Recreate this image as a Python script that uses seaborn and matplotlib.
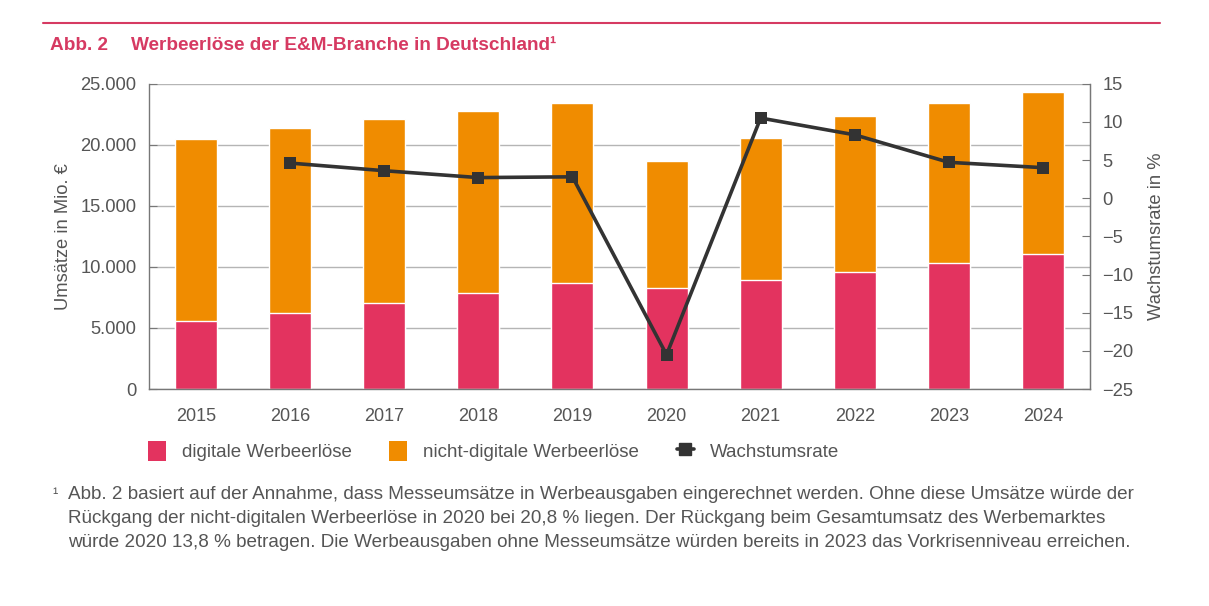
import numpy as np
import pandas as pd
import matplotlib
matplotlib.use("Agg")
import matplotlib.pyplot as plt
import seaborn as sns
from matplotlib.lines import Line2D
from matplotlib.patches import Patch
from matplotlib.ticker import FuncFormatter, FixedLocator

years = [2015, 2016, 2017, 2018, 2019, 2020, 2021, 2022, 2023, 2024]
digital = [5550, 6230, 7070, 7900, 8710, 8280, 8930, 9620, 10350, 11090]
total = [20470, 21400, 22150, 22760, 23440, 18630, 20570, 22320, 23390, 24320]
growth_years = [2016, 2017, 2018, 2019, 2020, 2021, 2022, 2023, 2024]
growth = [4.6, 3.6, 2.7, 2.8, -20.5, 10.5, 8.3, 4.7, 4.0]

RED = "#e3335f"
ORANGE = "#f08c00"
LINE = "#333333"
TEXT = "#555555"
TITLE = "#d63a62"
SPINE = "#777777"

sns.set_style("white")
plt.rcParams["font.family"] = ["Liberation Sans", "DejaVu Sans"]

df = pd.DataFrame({"year": years, "digital": digital, "total": total})
growth_df = pd.DataFrame({"year": growth_years, "growth": growth})

fig = plt.figure(figsize=(12.09, 6.06), dpi=100)
ax = fig.add_axes([149 / 1209, 0.358, 941 / 1209, 0.5039])

# stacked bars: total (orange) underneath, digital (red) drawn on top
sns.barplot(data=df, x="year", y="total", color=ORANGE, saturation=1,
            native_scale=True, width=0.446, errorbar=None, ax=ax)
sns.barplot(data=df, x="year", y="digital", color=RED, saturation=1,
            native_scale=True, width=0.446, errorbar=None, ax=ax)

ax.set_xlim(years[0] - 0.5, years[-1] + 0.5)
ax.set_ylim(0, 25000)
ax.set_yticks(np.arange(0, 25001, 5000))
ax.yaxis.set_major_formatter(FuncFormatter(lambda v, p: f"{int(v):,}".replace(",", ".")))
ax.set_xticks(years)
ax.set_xticklabels([str(y) for y in years])
ax.xaxis.set_minor_locator(FixedLocator([y + 0.5 for y in years[:-1]]))
ax.tick_params(axis="x", which="major", length=0, labelsize=13, labelcolor=TEXT, pad=14)
ax.tick_params(axis="x", which="minor", direction="in", length=5, color=SPINE, width=1)
ax.tick_params(axis="y", direction="in", length=6, color=SPINE, labelsize=13.2,
               labelcolor=TEXT, pad=9)
ax.grid(axis="y", color="#b5b5b5", linewidth=1)
ax.set_axisbelow(True)
ax.set_xlabel("")
ax.set_ylabel("Umsätze in Mio. €", fontsize=13.2, color=TEXT)
ax.yaxis.set_label_coords(-0.082, 0.5)
for side in ["left", "bottom", "right"]:
    ax.spines[side].set_color(SPINE)
    ax.spines[side].set_linewidth(1)
ax.spines["top"].set_visible(False)

ax2 = ax.twinx()
sns.lineplot(data=growth_df, x="year", y="growth", color=LINE, linewidth=2.6,
             marker="s", markersize=9, markeredgewidth=0, ax=ax2)
ax2.set_ylim(-25, 15)
ax2.set_yticks(np.arange(-25, 16, 5))
ax2.yaxis.set_major_formatter(FuncFormatter(lambda v, p: f"{int(v)}".replace("-", "\u2212")))
ax2.tick_params(axis="y", direction="in", length=6, color=SPINE, labelsize=13.2,
                labelcolor=TEXT, pad=9)
ax2.set_ylabel("Wachstumsrate in %", fontsize=13.2, color=TEXT)
ax2.yaxis.set_label_coords(1.062, 0.5)
ax2.set_xlabel("")
for side in ["left", "bottom", "top"]:
    ax2.spines[side].set_visible(False)
ax2.spines["right"].set_color(SPINE)

handles = [
    Patch(facecolor=RED, edgecolor="none", label="digitale Werbeerlöse"),
    Patch(facecolor=ORANGE, edgecolor="none", label="nicht-digitale Werbeerlöse"),
    Line2D([0], [0], color=LINE, linewidth=2.6, marker="s", markersize=9,
           label="Wachstumsrate"),
]
fig.legend(handles=handles, loc="center left", bbox_to_anchor=(0.1087, 0.256),
           ncol=3, frameon=False, fontsize=13.5, labelcolor=TEXT,
           handlelength=0.95, handleheight=1.25, handletextpad=0.85, columnspacing=2.0)

# header
fig.add_artist(Line2D([43 / 1209, 1160 / 1209], [1 - 23 / 606] * 2,
                      color=TITLE, linewidth=1.5))
fig.text(50 / 1209, 1 - 45 / 606, "Abb. 2", color=TITLE, fontsize=13.7,
         fontweight="bold", va="center")
fig.text(131 / 1209, 1 - 45 / 606, "Werbeerlöse der E&M-Branche in Deutschland¹",
         color=TITLE, fontsize=13.7, fontweight="bold", va="center")

# footnote
fig.text(52 / 1209, 1 - 493 / 606, "¹", color=TEXT, fontsize=11.5, va="center")
footnote = (
    "Abb. 2 basiert auf der Annahme, dass Messeumsätze in Werbeausgaben eingerechnet werden. "
    "Ohne diese Umsätze würde der\n"
    "Rückgang der nicht-digitalen Werbeerlöse in 2020 bei 20,8 % liegen. "
    "Der Rückgang beim Gesamtumsatz des Werbemarktes\n"
    "würde 2020 13,8 % betragen. Die Werbeausgaben ohne Messeumsätze würden bereits in 2023 "
    "das Vorkrisenniveau erreichen."
)
fig.text(68 / 1209, 1 - 486 / 606, footnote, color=TEXT, fontsize=13.6,
         va="top", linespacing=1.55)

fig.savefig("out.png", dpi=100)
